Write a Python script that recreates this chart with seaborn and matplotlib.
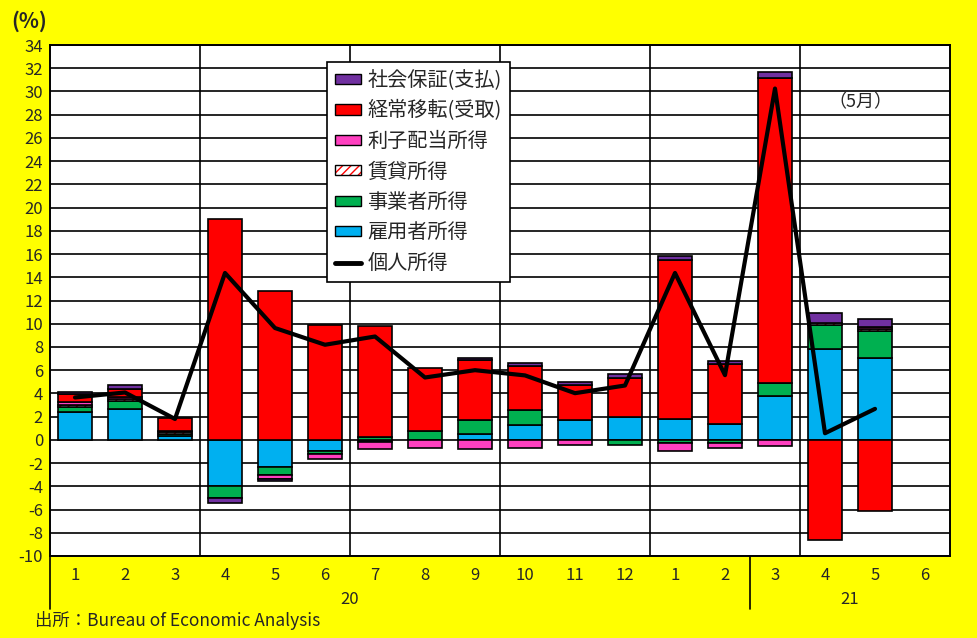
import numpy as np
import pandas as pd
import matplotlib
matplotlib.use("Agg")
import matplotlib.pyplot as plt
import seaborn as sns
from matplotlib.patches import Patch
from matplotlib.lines import Line2D
from matplotlib.legend_handler import HandlerTuple
import matplotlib.transforms as mtransforms

# ---------------- data ----------------
months = ["1", "2", "3", "4", "5", "6", "7", "8", "9", "10", "11", "12",
          "1", "2", "3", "4", "5", "6"]
years = ["20", "21"]
nan = np.nan
employee = [2.39, 2.64, 0.37, -4.00, -2.36, -0.95, -0.20, 0.00, 0.49, 1.26, 1.67, 1.95,
            1.81, 1.38, 3.79, 7.84, 7.04, nan]
business = [0.43, 0.69, 0.13, -1.00, -0.69, -0.29, 0.23, 0.80, 1.18, 1.33, 0.00, -0.46,
            -0.29, -0.29, 1.10, 2.02, 2.30, nan]
rental = [0.20, 0.20, 0.15, 0.00, 0.00, 0.00, 0.00, 0.00, 0.00, 0.00, 0.00, 0.00,
          0.00, 0.00, 0.00, 0.20, 0.20, nan]
interest = [0.20, 0.15, 0.14, 0.00, -0.31, -0.43, -0.57, -0.72, -0.78, -0.72, -0.46, 0.00,
            -0.63, -0.43, -0.49, 0.00, 0.14, nan]
transfer = [0.75, 0.69, 1.07, 19.00, 12.84, 9.88, 9.54, 5.36, 5.17, 3.73, 3.04, 3.34,
            13.68, 5.11, 26.29, -8.62, -6.12, nan]
social = [0.19, 0.34, 0.00, -0.43, -0.20, 0.00, 0.00, 0.00, 0.17, 0.26, 0.23, 0.37,
          0.34, 0.29, 0.52, 0.86, 0.72, nan]
personal = [3.65, 4.08, 1.80, 14.37, 9.63, 8.19, 8.90, 5.37, 6.00, 5.55, 4.02, 4.68,
            14.37, 5.57, 30.25, 0.57, 2.67, nan]

labels = ["社会保証(支払)", "経常移転(受取)", "利子配当所得", "賃貸所得",
          "事業者所得", "雇用者所得", "個人所得"]

# ---------------- style ----------------
sns.set_theme(style="white")
plt.rcParams["font.family"] = ["Noto Sans CJK JP", "DejaVu Sans"]
YELLOW = "#FFFF00"
C_PURPLE = "#7030A0"
C_RED = "#FF0000"
C_PINK = "#FF40C0"
C_GREEN = "#00B050"
C_BLUE = "#00B0F0"

W, H = 977, 638
fig = plt.figure(figsize=(W / 100, H / 100), dpi=100, facecolor=YELLOW)
ax = fig.add_axes([50 / W, 1 - 556 / H, 900 / W, (556 - 45) / H])
ax.set_facecolor("white")

x = np.arange(len(months))
df = pd.DataFrame({"x": x, "employee": employee, "business": business, "rental": rental,
                   "interest": interest, "transfer": transfer, "social": social,
                   "personal": personal})

order = [("employee", C_BLUE, None), ("business", C_GREEN, None), ("rental", "white", "////"),
         ("interest", C_PINK, None), ("transfer", C_RED, None), ("social", C_PURPLE, None)]
pos_base = np.zeros(len(x))
neg_base = np.zeros(len(x))
bw = 0.69
for col, color, hatch in order:
    v = df[col].fillna(0).to_numpy()
    bottoms = np.where(v >= 0, pos_base, neg_base)
    mask = v != 0
    if hatch:
        ax.bar(x[mask], v[mask], bottom=bottoms[mask], width=bw, color="white",
               edgecolor=C_RED, hatch=hatch, linewidth=0, zorder=3)
        ax.bar(x[mask], v[mask], bottom=bottoms[mask], width=bw, color="none",
               edgecolor="black", linewidth=1.2, zorder=3)
    else:
        ax.bar(x[mask], v[mask], bottom=bottoms[mask], width=bw, color=color,
               edgecolor="black", linewidth=1.2, zorder=3)
    pos_base = pos_base + np.where(v > 0, v, 0)
    neg_base = neg_base + np.where(v < 0, v, 0)

sns.lineplot(data=df.dropna(subset=["personal"]), x="x", y="personal", ax=ax, color="black",
             linewidth=3.0, sort=False, zorder=4, legend=False)

ax.set_xlim(-0.5, 17.5)
ax.set_ylim(-10, 34)
ax.set_yticks(range(-10, 35, 2))
ax.set_yticklabels([str(v) for v in range(-10, 35, 2)], fontsize=12)
ax.set_xticks(x)
ax.set_xticklabels(months, fontsize=12)
ax.set_xticks([2.5, 5.5, 8.5, 11.5, 14.5], minor=True)
ax.tick_params(axis="both", which="both", length=0)
ax.tick_params(axis="x", pad=8)
ax.tick_params(axis="y", pad=5)
ax.grid(axis="y", which="major", color="black", linewidth=1.2, zorder=1)
ax.grid(axis="x", which="minor", color="black", linewidth=1.2, zorder=1)
ax.grid(axis="x", which="major", visible=False)
ax.set_axisbelow(True)
ax.set_xlabel("")
ax.set_ylabel("")
for s in ax.spines.values():
    s.set_visible(True)
    s.set_color("black")
    s.set_linewidth(1.4)

# category group axis
trans = mtransforms.blended_transform_factory(ax.transData, ax.transAxes)
ax.text(5.5, -0.086, years[0], transform=trans, ha="center", va="center", fontsize=12)
ax.text(15.5, -0.086, years[1], transform=trans, ha="center", va="center", fontsize=12)
for xs in (-0.5, 13.5):
    ax.add_line(Line2D([xs, xs], [0, -0.103], transform=trans, color="black",
                       linewidth=1.2, clip_on=False))

# legend
handles = [
    Patch(facecolor=C_PURPLE, edgecolor="black"),
    Patch(facecolor=C_RED, edgecolor="black"),
    Patch(facecolor=C_PINK, edgecolor="black"),
    (Patch(facecolor="white", edgecolor=C_RED, hatch="////", linewidth=0),
     Patch(facecolor="none", edgecolor="black")),
    Patch(facecolor=C_GREEN, edgecolor="black"),
    Patch(facecolor=C_BLUE, edgecolor="black"),
    Line2D([0], [0], color="black", linewidth=3.5),
]
leg = ax.legend(handles, labels, loc="upper left",
                bbox_to_anchor=(327 / W, 1 - 62 / H), bbox_transform=fig.transFigure,
                fontsize=14.5, frameon=True, fancybox=False, framealpha=1,
                edgecolor="black", handlelength=1.3, handleheight=0.42,
                handletextpad=0.3, labelspacing=0.47, borderpad=0.4, borderaxespad=0,
                handler_map={tuple: HandlerTuple(ndivide=1, pad=0)})
leg.get_frame().set_linewidth(1.2)
leg.set_zorder(10)

ax.text(15.7, 29.1, "（5月）", ha="center", va="center", fontsize=13, zorder=5)

fig.text(11 / W, 1 - 21 / H, "(%)", ha="left", va="center", fontsize=15, fontweight="bold")
fig.text(35 / W, 1 - 621 / H, "出所：Bureau of Economic Analysis", ha="left", va="center",
         fontsize=12.5)

fig.savefig("out.png", dpi=100, facecolor=YELLOW)
